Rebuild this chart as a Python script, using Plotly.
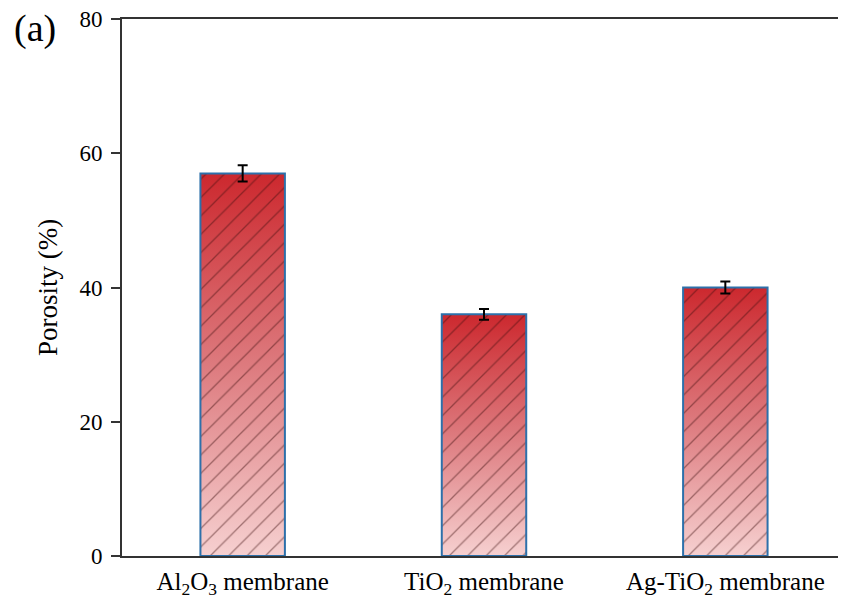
import plotly.graph_objects as go

categories = ["Al<sub>2</sub>O<sub>3</sub> membrane", "TiO<sub>2</sub> membrane", "Ag-TiO<sub>2</sub> membrane"]
porosity = [57.0, 36.0, 40.0]
errors = [1.2, 0.8, 0.9]
y_ticks = [0, 20, 40, 60, 80]

positions = list(range(len(categories)))
bar_width = 0.35
SERIF = "Liberation Serif, Times New Roman, serif"
X_RANGE = [-0.5, 2.5]
Y_RANGE = [0, 80]

# page body has an 8px margin; compensate so the plot area lands where the reference has it
W, H = 838, 593
L, R, T, B = 114, 0, 11, 45
PW, PH = W - L - R, H - T - B

fig = go.Figure()

# gradient body of each bar (base layer)
for i, v in zip(positions, porosity):
    x0, x1 = i - bar_width / 2, i + bar_width / 2
    fig.add_trace(go.Scatter(
        x=[x0, x1, x1, x0, x0], y=[0, 0, v, v, 0],
        mode="lines", line=dict(width=0), fill="toself",
        fillgradient=dict(type="vertical",
                          colorscale=[[0, "rgb(246,208,208)"], [0.5, "rgb(221,122,126)"], [1, "rgb(204,40,46)"]]),
        hoverinfo="skip", showlegend=False,
    ))

# hatched overlay with outline and error bars, on an overlaid axis pair so it draws on top
fig.add_trace(go.Bar(
    x=positions, y=porosity, width=bar_width, xaxis="x2", yaxis="y2",
    marker=dict(color="rgba(0,0,0,0)",
                line=dict(color="rgb(45,112,170)", width=2),
                pattern=dict(shape="/", fgcolor="rgba(60,12,12,0.9)", bgcolor="rgba(0,0,0,0)",
                             size=13, solidity=0.1)),
    error_y=dict(type="data", array=errors, color="black", thickness=2, width=5),
    showlegend=False,
))

fig.update_layout(
    width=W, height=H,
    margin=dict(l=L, r=R, t=T, b=B),
    plot_bgcolor="white", paper_bgcolor="white",
    font=dict(family=SERIF, size=24, color="black"),
    xaxis=dict(range=X_RANGE, tickvals=positions, ticktext=categories,
               showline=True, linecolor="#333333", linewidth=2, mirror=True,
               ticks="", showgrid=False, zeroline=False, ticklabelstandoff=2,
               tickfont=dict(family=SERIF, size=25, color="black")),
    yaxis=dict(range=Y_RANGE, tickvals=y_ticks,
               showline=True, linecolor="#333333", linewidth=2,
               ticks="outside", ticklen=9, tickwidth=2, tickcolor="#333333",
               showgrid=False, zeroline=False, ticklabelstandoff=4,
               ticklabeloverflow="allow",
               title=dict(text="Porosity (%)", font=dict(family=SERIF, size=27), standoff=14),
               tickfont=dict(family=SERIF, size=23, color="black")),
    xaxis2=dict(range=X_RANGE, overlaying="x", visible=False),
    yaxis2=dict(range=Y_RANGE, overlaying="y", visible=False),
)
fig.add_annotation(text="(a)", xref="paper", yref="paper",
                   x=(35 - 8 - L) / PW, y=1 - (29 - 8 - T) / PH,
                   xanchor="center", yanchor="middle", showarrow=False,
                   font=dict(family=SERIF, size=38, color="black"))

fig.write_html("out.html")
